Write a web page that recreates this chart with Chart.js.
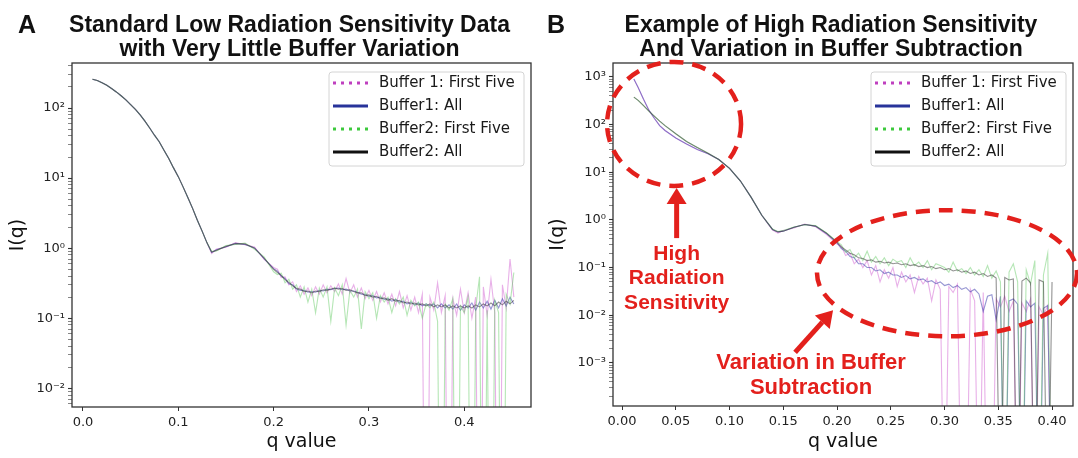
<!DOCTYPE html>
<html>
<head>
<meta charset="utf-8">
<script src="https://cdn.jsdelivr.net/npm/chart.js@4.4.1/dist/chart.umd.min.js"></script>
<style>
  body { margin: 0; background: #fff; width: 1078px; height: 458px; overflow: hidden; position: relative; }
  #panelA { position: absolute; left: 0; top: 0; }
  #panelB { position: absolute; left: 540px; top: 0; }
</style>
</head>
<body>
<canvas id="panelA" width="540" height="458"></canvas>
<canvas id="panelB" width="538" height="458"></canvas>
<script>
// intensities that went negative after buffer subtraction drop off the log axis
const NEG = 1e-7;

const seriesNames = ['Buffer 1: First Five', 'Buffer1: All', 'Buffer2: First Five', 'Buffer2: All'];

// ---- Panel A ----
const qA = [0.010,0.015,0.020,0.025,0.030,0.035,0.040,0.045,0.050,0.055,0.060,0.065,0.070,0.075,0.080,0.085,0.090,0.095,0.100,0.105,0.110,0.115,0.120,0.125,0.130,0.135,0.140,0.150,0.160,0.170,0.180,0.190,0.200,
  0.204,0.208,0.212,0.216,0.220,0.224,0.228,0.232,0.236,0.240,
  0.244,0.248,0.252,0.256,0.260,0.264,0.268,0.272,0.276,0.280,
  0.284,0.288,0.292,0.296,0.300,0.304,0.308,0.312,0.316,0.320,
  0.324,0.328,0.332,0.336,0.340,0.344,0.348,0.352,0.356,0.360,
  0.364,0.368,0.372,0.376,0.380,0.384,0.388,0.392,0.396,0.400,
  0.404,0.408,0.412,0.416,0.420,0.424,0.428,0.432,0.436,0.440,
  0.444,0.448,0.452];
const aBuf1First = [258,247,230,212,190,170,150,131,112,96,80,65,52,41,33,25,19,14,10.5,7.5,5.3,3.7,2.5,1.75,1.2,0.84,0.97,1.03,1.2,1.12,1.04,0.69,0.53,
  .5,.38,.39,.3,.33,.24,.29,.22,.27,.21,
  .28,.22,.3,.23,.29,.24,.31,.22,.37,.23,
  .3,.2,.27,.19,.25,.18,.24,.17,.23,.16,
  .22,.15,.24,.14,.21,.13,.2,.12,.22,NEG,
  .2,.13,.32,.12,.21,NEG,.19,.11,.26,.12,
  .23,.1,.2,NEG,.28,.11,.36,.12,NEG,.3,
  .14,.7,.2];
const aBuf1All = [258,247,230,212,190,170,150,131,112,96,80,65,52,41,33,25,19,14,10.5,7.5,5.3,3.7,2.5,1.75,1.2,0.87,0.95,1.05,1.17,1.13,1.01,0.71,0.51,
  .47,.40,.37,.31,.3,.26,.25,.25,.235,.24,
  .235,.25,.245,.26,.255,.265,.27,.255,.26,.245,
  .245,.235,.22,.22,.205,.21,.195,.2,.185,.19,
  .175,.185,.17,.175,.16,.17,.155,.165,.15,.16,
  .15,.16,.14,.16,.14,.155,.135,.16,.13,.155,
  .14,.165,.13,.17,.14,.175,.135,.18,.14,.19,
  .15,.2,.16];
const aBuf2First = [258,247,230,212,190,170,150,131,112,96,80,65,52,41,33,25,19,14,10.5,7.5,5.3,3.7,2.5,1.75,1.2,0.9,0.91,1.09,1.13,1.18,0.96,0.75,0.46,
  .42,.44,.32,.36,.26,.3,.2,.28,.17,.26,
  .12,.27,.2,.28,.09,.27,.21,.3,.08,.25,
  .2,.26,.07,.24,.19,.23,.1,.21,.17,.2,
  .12,.19,.16,.2,.11,.18,.15,.17,.1,.16,
  .14,.17,.09,NEG,.16,.13,.19,NEG,.15,.12,
  .2,NEG,.14,.39,NEG,.13,NEG,.18,.12,NEG,
  .22,.16,.45];
const aBuf2All = [258,247,230,212,190,170,150,131,112,96,80,65,52,41,33,25,19,14,10.5,7.5,5.3,3.7,2.5,1.75,1.2,0.88,0.93,1.06,1.16,1.15,1.0,0.72,0.5,
  .45,.41,.355,.325,.29,.265,.26,.24,.245,.23,
  .245,.24,.255,.25,.26,.27,.26,.265,.25,.255,
  .24,.23,.23,.21,.215,.2,.205,.19,.195,.18,
  .19,.175,.18,.165,.17,.16,.165,.155,.16,.15,
  .16,.145,.155,.145,.155,.14,.15,.14,.15,.14,
  .15,.14,.155,.145,.16,.15,.165,.15,.17,.155,
  .175,.16,.18];
const xTicksA = [0, 0.1, 0.2, 0.3, 0.4];
const xLabelsA = ['0.0', '0.1', '0.2', '0.3', '0.4'];
const yTicksA = [1e-2, 1e-1, 1, 10, 100];
const yLabelsA = ['10⁻²', '10⁻¹', '10⁰', '10¹', '10²'];

// ---- Panel B ----
const qB = [0.011,0.015,0.020,0.025,0.030,0.035,0.040,0.050,0.060,0.070,0.080,0.090,0.100,0.110,0.120,0.130,0.140,0.145,0.150,0.160,0.170,0.180,0.190,0.200,
  0.204,0.208,0.212,0.216,0.220,0.224,0.228,0.232,0.236,0.240,
  0.244,0.248,0.252,0.256,0.260,0.264,0.268,0.272,0.276,0.280,
  0.284,0.288,0.292,0.296,0.300,0.304,0.308,0.312,0.316,0.320,
  0.324,0.328,0.332,0.336,0.340,0.344,0.348,0.352,0.356,0.360,
  0.364,0.368,0.372,0.376,0.380,0.384,0.388,0.392,0.396,0.400];
const bBuf1First = [900,600,340,200,135,95,75,52,39,30,24.5,18.5,12,6.6,3.0,1.25,0.61,0.53,0.6,0.68,0.82,0.72,0.5,0.31,
  .28,.18,.2,.12,.15,.1,.14,.07,.11,.05,
  .09,.06,.1,.04,.08,.05,.07,.03,.065,.045,
  .06,.02,.055,.035,NEG,.04,.03,.045,NEG,NEG,
  .035,.02,NEG,.03,NEG,NEG,.022,.015,.025,.012,
  .02,NEG,.018,.012,.022,NEG,.015,.01,.016,NEG];
const bBuf1All = [900,600,340,200,135,95,75,52,39,30,24.5,18.5,12,6.6,3.0,1.25,0.63,0.56,0.58,0.70,0.80,0.74,0.52,0.33,
  .25,.22,.17,.16,.12,.12,.1,.1,.085,.09,
  .075,.08,.07,.07,.062,.068,.058,.062,.055,.058,
  .05,.053,.046,.05,.042,.045,.038,.042,.035,.038,
  .031,.035,.028,.012,.025,.027,.008,.025,NEG,.02,
  .022,.017,NEG,.02,.015,.018,NEG,.014,.016,NEG];
const bBuf2First = [375,320,250,190,150,118,95,64,44,33,25,18.5,12,6.6,3.0,1.25,0.64,0.57,0.6,0.71,0.79,0.76,0.54,0.35,
  .3,.21,.24,.16,.2,.14,.22,.13,.17,.12,
  .16,.11,.15,.13,.14,.1,.16,.11,.13,.1,
  .14,.09,.12,.11,.1,.08,.13,.085,.095,.075,
  .1,.07,.09,.065,.11,.06,.085,.05,NEG,.08,
  .12,.05,NEG,.09,.045,.14,NEG,.07,.2,NEG];
const bBuf2All = [375,320,250,190,150,118,95,64,44,33,25,18.5,12,6.6,3.0,1.25,0.63,0.56,0.58,0.70,0.80,0.74,0.53,0.34,
  .27,.235,.2,.185,.16,.155,.14,.145,.13,.135,
  .125,.13,.12,.125,.115,.12,.11,.115,.105,.11,
  .1,.105,.095,.1,.09,.095,.085,.09,.08,.085,
  .075,.08,.07,.075,.065,.07,.06,NEG,.062,.055,
  .058,NEG,.052,.06,.048,NEG,.055,.05,NEG,.05];
const xTicksB = [0, 0.05, 0.1, 0.15, 0.2, 0.25, 0.3, 0.35, 0.4];
const xLabelsB = ['0.00', '0.05', '0.10', '0.15', '0.20', '0.25', '0.30', '0.35', '0.40'];
const yTicksB = [1e-3, 1e-2, 1e-1, 1, 10, 100, 1000];
const yLabelsB = ['10⁻³', '10⁻²', '10⁻¹', '10⁰', '10¹', '10²', '10³'];

// red call-outs on panel B, placed in data units (q, I)
const ringsB = [
  { q: 0.0484, i: 103, rx: 67, ry: 62 },
  { q: 0.3023, i: 0.076, rx: 130, ry: 63 }
];
const arrowsB = [
  { q0: 0.0508, i0: 0.415, q1: 0.0508, i1: 4.66 },
  { q0: 0.161, i0: 0.00167, q1: 0.1963, i1: 0.0127 }
];
const calloutsB = [
  { q: 0.0508, i: 0.191, size: 21, lines: ['High', 'Radiation', 'Sensitivity'] },
  { q: 0.1758, i: 9.8e-4, size: 22, lines: ['Variation in Buffer', 'Subtraction'] }
];

const lineColors = ['rgba(205,80,205,0.45)', 'rgba(45,45,165,0.5)', 'rgba(90,200,90,0.45)', 'rgba(40,40,40,0.5)'];
const keyColors = ['#bf3fbf', '#27339a', '#3cc93c', '#111111'];
const keyDash = [[3, 5], null, [3, 5], null];

const RED = '#e3201c';
const TICK_FONT = { family: 'DejaVu Sans', size: 13 };
const AXIS_FONT = { family: 'DejaVu Sans', size: 19 };

function logTicks(majors, min, max) {
  const out = [];
  [majors[0] / 10, ...majors].forEach(d => {
    for (let m = 1; m <= 9; m++) {
      const v = m === 1 ? d : m * d;
      if (v >= min && v <= max) out.push({ value: v });
    }
  });
  return out;
}

function isMajor(majors, v) {
  return majors.findIndex(t => Math.abs(t - v) / t < 1e-6);
}

function drawArrow(ctx, x0, y0, x1, y1) {
  const a = Math.atan2(y1 - y0, x1 - x0), head = 16, half = 10;
  const bx = x1 - head * Math.cos(a), by = y1 - head * Math.sin(a);
  ctx.lineWidth = 5;
  ctx.setLineDash([]);
  ctx.beginPath(); ctx.moveTo(x0, y0); ctx.lineTo(bx, by); ctx.stroke();
  ctx.beginPath();
  ctx.moveTo(x1, y1);
  ctx.lineTo(bx + half * Math.sin(a), by - half * Math.cos(a));
  ctx.lineTo(bx - half * Math.sin(a), by + half * Math.cos(a));
  ctx.closePath();
  ctx.fill();
}

function decor(cfg) {
  return {
    id: 'decor' + cfg.letter,
    afterDraw(chart) {
      const { ctx, chartArea: ca, scales } = chart;
      const sx = scales.x, sy = scales.y;
      ctx.save();

      // plot frame
      ctx.strokeStyle = '#333';
      ctx.lineWidth = 1.3;
      ctx.strokeRect(ca.left, ca.top, ca.right - ca.left, ca.bottom - ca.top);

      // panel letter and title
      ctx.fillStyle = '#111';
      ctx.textAlign = 'center';
      ctx.textBaseline = 'alphabetic';
      ctx.font = 'bold 25px "Liberation Sans", Arial, sans-serif';
      ctx.fillText(cfg.letter, cfg.letterX, 33);
      ctx.font = 'bold 23px "Liberation Sans", Arial, sans-serif';
      const tx = (ca.left + ca.right) / 2 - 12;
      ctx.fillText(cfg.title[0], tx, 32);
      ctx.fillText(cfg.title[1], tx, 56);

      // red notes
      if (cfg.rings) {
        ctx.strokeStyle = RED;
        ctx.fillStyle = RED;
        ctx.lineWidth = 4.5;
        ctx.setLineDash([14, 9]);
        cfg.rings.forEach(r => {
          ctx.beginPath();
          ctx.ellipse(sx.getPixelForValue(r.q), sy.getPixelForValue(r.i), r.rx, r.ry, 0, 0, Math.PI * 2);
          ctx.stroke();
        });
        cfg.arrows.forEach(a => {
          drawArrow(ctx, sx.getPixelForValue(a.q0), sy.getPixelForValue(a.i0),
            sx.getPixelForValue(a.q1), sy.getPixelForValue(a.i1));
        });
        ctx.textBaseline = 'middle';
        cfg.callouts.forEach(c => {
          ctx.font = 'bold ' + c.size + 'px "Liberation Sans", Arial, sans-serif';
          const x = sx.getPixelForValue(c.q), y = sy.getPixelForValue(c.i);
          c.lines.forEach((t, k) => ctx.fillText(t, x, y + k * 24.5));
        });
      }

      // legend inside the plot
      const bw = 195, bh = 94;
      const bx = ca.right - 7 - bw, by = ca.top + 9;
      ctx.setLineDash([]);
      ctx.fillStyle = 'rgba(255,255,255,0.85)';
      ctx.strokeStyle = '#d4d4d4';
      ctx.lineWidth = 1;
      ctx.beginPath();
      ctx.roundRect(bx, by, bw, bh, 3);
      ctx.fill();
      ctx.stroke();
      chart.data.datasets.forEach((ds, k) => {
        const y = by + 11 + k * 23;
        ctx.strokeStyle = ds.keyColor;
        ctx.lineWidth = 3;
        ctx.setLineDash(ds.keyDash || []);
        ctx.beginPath(); ctx.moveTo(bx + 4, y); ctx.lineTo(bx + 39, y); ctx.stroke();
        ctx.setLineDash([]);
        ctx.fillStyle = '#1a1a1a';
        ctx.font = '15px "DejaVu Sans"';
        ctx.textAlign = 'left';
        ctx.textBaseline = 'middle';
        ctx.fillText(ds.label, bx + 50, y);
      });
      ctx.restore();
    }
  };
}

function makePanel(id, q, series, ax, cfg) {
  const datasets = series.map((vals, k) => ({
    label: seriesNames[k],
    data: q.map((x, n) => ({ x: x, y: vals[n] })),
    borderColor: lineColors[k],
    borderWidth: 1.1,
    pointRadius: 0,
    fill: false,
    tension: 0,
    order: 4 - k,
    keyColor: keyColors[k],
    keyDash: keyDash[k]
  }));

  return new Chart(document.getElementById(id), {
    type: 'line',
    data: { datasets: datasets },
    options: {
      responsive: false,
      animation: false,
      events: [],
      devicePixelRatio: 1,
      layout: { padding: { top: 63, right: ax.padRight, bottom: 0, left: 0 } },
      plugins: { legend: { display: false }, tooltip: { enabled: false } },
      scales: {
        x: {
          type: 'linear',
          min: ax.xMin,
          max: ax.xMax,
          afterBuildTicks: s => { s.ticks = ax.xTicks.map(v => ({ value: v })); },
          afterFit: s => { s.height = ax.xHeight; },
          ticks: {
            autoSkip: false,
            maxRotation: 0,
            padding: 4,
            color: '#222',
            font: TICK_FONT,
            callback: (v, i) => ax.xLabels[i]
          },
          grid: { drawOnChartArea: false, drawTicks: true, tickLength: 4, tickColor: '#333', tickWidth: 1 },
          border: { display: false },
          title: { display: true, text: 'q value', color: '#111', font: AXIS_FONT, padding: { top: 0, bottom: 5 } }
        },
        y: {
          type: 'logarithmic',
          min: ax.yMin,
          max: ax.yMax,
          afterBuildTicks: s => { s.ticks = logTicks(ax.yTicks, ax.yMin, ax.yMax); },
          afterFit: s => { s.width = ax.yWidth; },
          ticks: {
            autoSkip: false,
            padding: 3,
            color: '#222',
            font: TICK_FONT,
            callback: v => {
              const k = isMajor(ax.yTicks, v);
              return k >= 0 ? ax.yLabels[k] : '';
            }
          },
          grid: {
            drawOnChartArea: false,
            drawTicks: true,
            tickLength: 4,
            tickColor: '#333',
            tickWidth: c => (c.tick && isMajor(ax.yTicks, c.tick.value) >= 0 ? 1.1 : 0.6)
          },
          border: { display: false },
          title: { display: true, text: 'I(q)', color: '#111', font: AXIS_FONT, padding: { top: 7, bottom: 0 } }
        }
      }
    },
    plugins: [decor(cfg)]
  });
}

makePanel('panelA', qA, [aBuf1First, aBuf1All, aBuf2First, aBuf2All], {
  xMin: -0.0115, xMax: 0.470, yMin: 0.0054, yMax: 440,
  xTicks: xTicksA, xLabels: xLabelsA, yTicks: yTicksA, yLabels: yLabelsA,
  yWidth: 72, xHeight: 51, padRight: 9
}, {
  letter: 'A', letterX: 27,
  title: ['Standard Low Radiation Sensitivity Data', 'with Very Little Buffer Variation']
});

makePanel('panelB', qB, [bBuf1First, bBuf1All, bBuf2First, bBuf2All], {
  xMin: -0.0084, xMax: 0.4195, yMin: 1.25e-4, yMax: 1950,
  xTicks: xTicksB, xLabels: xLabelsB, yTicks: yTicksB, yLabels: yLabelsB,
  yWidth: 73, xHeight: 52, padRight: 5
}, {
  letter: 'B', letterX: 16,
  title: ['Example of High Radiation Sensitivity', 'And Variation in Buffer Subtraction'],
  rings: ringsB, arrows: arrowsB, callouts: calloutsB
});
</script>
</body>
</html>
